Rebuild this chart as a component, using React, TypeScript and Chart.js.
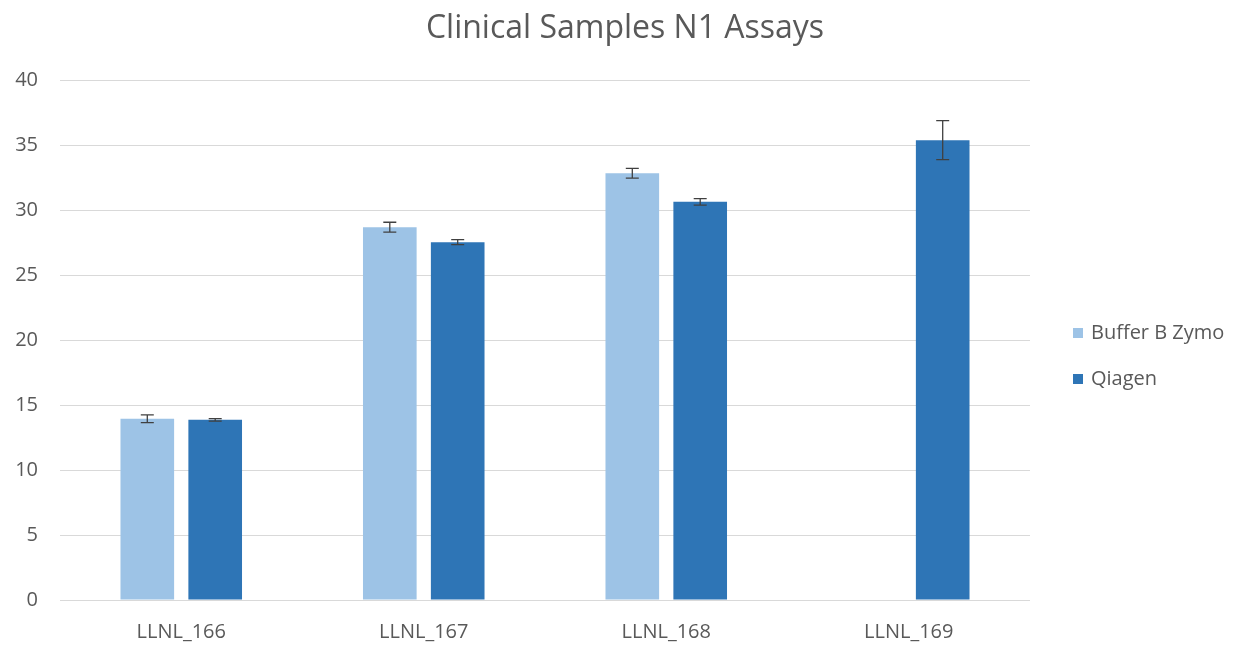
import React, { useEffect, useRef } from "react";
import { Chart, registerables } from "chart.js";

Chart.register(...registerables);

const categories = ["LLNL_166", "LLNL_167", "LLNL_168", "LLNL_169"];
const bufferValues: (number | null)[] = [13.95, 28.7, 32.85, null];
const bufferErrors: (number | null)[] = [0.3, 0.38, 0.38, null];
const qiagenValues: (number | null)[] = [13.87, 27.55, 30.65, 35.4];
const qiagenErrors: (number | null)[] = [0.1, 0.2, 0.25, 1.5];
const seriesNames = ["Buffer B Zymo", "Qiagen"];
const seriesColors = ["#9DC3E6", "#2E75B6"];
const chartTitle = "Clinical Samples N1 Assays";

const FONT = "'Open Sans', sans-serif";
const TEXT = "#595959";

const errorBarPlugin = {
  id: "errorBars",
  afterDatasetsDraw(chart: any) {
    const ctx = chart.ctx;
    const y = chart.scales.y;
    const errs = [bufferErrors, qiagenErrors];
    chart.data.datasets.forEach((ds: any, di: number) => {
      const meta = chart.getDatasetMeta(di);
      meta.data.forEach((bar: any, i: number) => {
        const v = ds.data[i];
        const e = errs[di][i];
        if (v == null || e == null) return;
        const x = bar.x;
        const top = y.getPixelForValue(v + e);
        const bot = y.getPixelForValue(v - e);
        ctx.save();
        ctx.strokeStyle = "#404040";
        ctx.lineWidth = 1.3;
        ctx.beginPath();
        ctx.moveTo(x, top);
        ctx.lineTo(x, bot);
        ctx.moveTo(x - 6.5, top);
        ctx.lineTo(x + 6.5, top);
        ctx.moveTo(x - 6.5, bot);
        ctx.lineTo(x + 6.5, bot);
        ctx.stroke();
        ctx.restore();
      });
    });
  },
};

const legendPlugin = {
  id: "sideLegend",
  afterDraw(chart: any) {
    const ctx = chart.ctx;
    const ys = [333, 379];
    ctx.save();
    ctx.font = `20px ${FONT}`;
    ctx.textBaseline = "middle";
    ctx.textAlign = "left";
    seriesNames.forEach((name, i) => {
      ctx.fillStyle = seriesColors[i];
      ctx.fillRect(1073, ys[i] - 5, 10, 10);
      ctx.fillStyle = TEXT;
      ctx.fillText(name, 1091, ys[i]);
    });
    ctx.restore();
  },
};

export default function App() {
  const ref = useRef<HTMLCanvasElement | null>(null);
  useEffect(() => {
    document.body.style.margin = "0";
    if (!ref.current) return;
    const chart = new Chart(ref.current, {
      type: "bar",
      data: {
        labels: categories,
        datasets: [
          {
            label: seriesNames[0],
            data: bufferValues,
            backgroundColor: seriesColors[0],
            categoryPercentage: 0.56,
            barPercentage: 0.79,
          },
          {
            label: seriesNames[1],
            data: qiagenValues,
            backgroundColor: seriesColors[1],
            categoryPercentage: 0.56,
            barPercentage: 0.79,
          },
        ],
      },
      options: {
        animation: false,
        responsive: false,
        layout: { padding: { left: 11, right: 0, top: 0, bottom: 0 } },
        plugins: {
          legend: { display: false },
          tooltip: { enabled: false },
          title: {
            display: true,
            text: chartTitle,
            color: TEXT,
            font: { family: FONT, size: 32, weight: "normal" },
            padding: { top: 10, bottom: 32 },
          },
        },
        scales: {
          x: {
            grid: { display: false, drawTicks: false },
            border: { display: false },
            ticks: {
              color: TEXT,
              font: { family: FONT, size: 20 },
              padding: 20,
            },
            afterFit: (s: any) => {
              s.height = 45;
            },
          },
          y: {
            min: 0,
            max: 40,
            grid: { color: "#D9D9D9", lineWidth: 1, drawTicks: false },
            border: { display: false },
            ticks: {
              stepSize: 5,
              color: TEXT,
              font: { family: FONT, size: 20 },
              padding: 22,
            },
            afterFit: (s: any) => {
              s.width = 49;
            },
          },
          yRight: {
            position: "right",
            display: true,
            grid: { display: false, drawTicks: false },
            border: { display: false },
            ticks: { display: false },
            afterFit: (s: any) => {
              s.width = 209;
            },
          },
        },
      },
      plugins: [errorBarPlugin, legendPlugin],
    });
    return () => chart.destroy();
  }, []);
  return (
    <div style={{ width: 1239, height: 645 }}>
      <canvas ref={ref} width={1239} height={645} />
    </div>
  );
}
